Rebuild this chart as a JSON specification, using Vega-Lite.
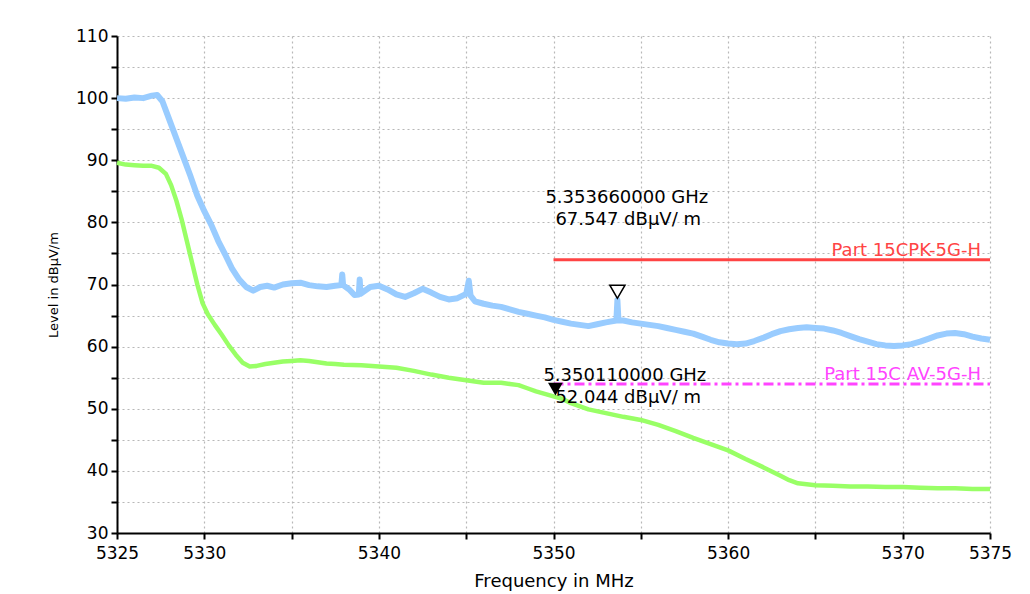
{
  "$schema": "https://vega.github.io/schema/vega-lite/v6.json",
  "width": 873,
  "height": 497,
  "autosize": {"type": "none"},
  "padding": {"left": 117, "top": 36, "right": 40, "bottom": 61},
  "background": "white",
  "config": {
    "view": {"stroke": null},
    "axis": {
      "labelFont": "DejaVu Sans",
      "titleFont": "DejaVu Sans",
      "labelColor": "black",
      "titleColor": "black",
      "titleFontWeight": "normal",
      "domainColor": "black",
      "domainWidth": 2,
      "tickColor": "black",
      "tickWidth": 2,
      "tickSize": 6,
      "grid": true,
      "gridColor": "#b8b8b8",
      "gridDash": [2, 3],
      "gridWidth": 1.2
    }
  },
  "datasets": {
    "traces": [
      {"trace": "PK", "freq": 5325.0, "level": 100.0},
      {"trace": "PK", "freq": 5325.5, "level": 99.9},
      {"trace": "PK", "freq": 5326.0, "level": 100.1},
      {"trace": "PK", "freq": 5326.5, "level": 100.0},
      {"trace": "PK", "freq": 5327.0, "level": 100.4},
      {"trace": "PK", "freq": 5327.3, "level": 100.5},
      {"trace": "PK", "freq": 5327.6, "level": 99.5},
      {"trace": "PK", "freq": 5328.0, "level": 96.5},
      {"trace": "PK", "freq": 5328.4, "level": 93.5},
      {"trace": "PK", "freq": 5328.8, "level": 90.5},
      {"trace": "PK", "freq": 5329.2, "level": 87.5},
      {"trace": "PK", "freq": 5329.6, "level": 84.3},
      {"trace": "PK", "freq": 5330.0, "level": 81.8},
      {"trace": "PK", "freq": 5330.4, "level": 79.6},
      {"trace": "PK", "freq": 5330.8, "level": 77.0},
      {"trace": "PK", "freq": 5331.2, "level": 74.8},
      {"trace": "PK", "freq": 5331.6, "level": 72.5},
      {"trace": "PK", "freq": 5332.0, "level": 70.8},
      {"trace": "PK", "freq": 5332.4, "level": 69.6},
      {"trace": "PK", "freq": 5332.8, "level": 69.0},
      {"trace": "PK", "freq": 5333.2, "level": 69.6},
      {"trace": "PK", "freq": 5333.6, "level": 69.8},
      {"trace": "PK", "freq": 5334.0, "level": 69.5},
      {"trace": "PK", "freq": 5334.5, "level": 70.0},
      {"trace": "PK", "freq": 5335.0, "level": 70.2},
      {"trace": "PK", "freq": 5335.5, "level": 70.3},
      {"trace": "PK", "freq": 5336.0, "level": 69.9},
      {"trace": "PK", "freq": 5336.5, "level": 69.7},
      {"trace": "PK", "freq": 5337.0, "level": 69.6},
      {"trace": "PK", "freq": 5337.5, "level": 69.8},
      {"trace": "PK", "freq": 5337.85, "level": 69.9},
      {"trace": "PK", "freq": 5337.9, "level": 71.6},
      {"trace": "PK", "freq": 5337.95, "level": 69.9},
      {"trace": "PK", "freq": 5338.3, "level": 69.2},
      {"trace": "PK", "freq": 5338.6, "level": 68.3},
      {"trace": "PK", "freq": 5338.85, "level": 68.4},
      {"trace": "PK", "freq": 5338.9, "level": 70.8},
      {"trace": "PK", "freq": 5338.95, "level": 68.5},
      {"trace": "PK", "freq": 5339.5, "level": 69.6},
      {"trace": "PK", "freq": 5340.0, "level": 69.8},
      {"trace": "PK", "freq": 5340.5, "level": 69.2},
      {"trace": "PK", "freq": 5341.0, "level": 68.4},
      {"trace": "PK", "freq": 5341.5, "level": 68.0},
      {"trace": "PK", "freq": 5342.0, "level": 68.6},
      {"trace": "PK", "freq": 5342.5, "level": 69.3},
      {"trace": "PK", "freq": 5343.0, "level": 68.7},
      {"trace": "PK", "freq": 5343.5, "level": 68.0},
      {"trace": "PK", "freq": 5344.0, "level": 67.6},
      {"trace": "PK", "freq": 5344.5, "level": 67.8},
      {"trace": "PK", "freq": 5345.0, "level": 68.5},
      {"trace": "PK", "freq": 5345.15, "level": 70.6},
      {"trace": "PK", "freq": 5345.25, "level": 68.2},
      {"trace": "PK", "freq": 5345.5, "level": 67.3},
      {"trace": "PK", "freq": 5346.0, "level": 66.9},
      {"trace": "PK", "freq": 5346.5, "level": 66.6},
      {"trace": "PK", "freq": 5347.0, "level": 66.4},
      {"trace": "PK", "freq": 5347.5, "level": 66.0},
      {"trace": "PK", "freq": 5348.0, "level": 65.6},
      {"trace": "PK", "freq": 5348.5, "level": 65.3},
      {"trace": "PK", "freq": 5349.0, "level": 65.0},
      {"trace": "PK", "freq": 5349.5, "level": 64.7},
      {"trace": "PK", "freq": 5350.0, "level": 64.3},
      {"trace": "PK", "freq": 5350.5, "level": 64.0},
      {"trace": "PK", "freq": 5351.0, "level": 63.7},
      {"trace": "PK", "freq": 5351.5, "level": 63.5},
      {"trace": "PK", "freq": 5352.0, "level": 63.3},
      {"trace": "PK", "freq": 5352.5, "level": 63.6},
      {"trace": "PK", "freq": 5353.0, "level": 63.9},
      {"trace": "PK", "freq": 5353.6, "level": 64.2},
      {"trace": "PK", "freq": 5353.66, "level": 67.5},
      {"trace": "PK", "freq": 5353.72, "level": 64.2},
      {"trace": "PK", "freq": 5354.0, "level": 64.2},
      {"trace": "PK", "freq": 5354.5, "level": 63.9},
      {"trace": "PK", "freq": 5355.0, "level": 63.7},
      {"trace": "PK", "freq": 5355.5, "level": 63.5},
      {"trace": "PK", "freq": 5356.0, "level": 63.3},
      {"trace": "PK", "freq": 5356.5, "level": 63.0},
      {"trace": "PK", "freq": 5357.0, "level": 62.7},
      {"trace": "PK", "freq": 5357.5, "level": 62.4},
      {"trace": "PK", "freq": 5358.0, "level": 62.1},
      {"trace": "PK", "freq": 5358.5, "level": 61.6},
      {"trace": "PK", "freq": 5359.0, "level": 61.1},
      {"trace": "PK", "freq": 5359.5, "level": 60.7},
      {"trace": "PK", "freq": 5360.0, "level": 60.5},
      {"trace": "PK", "freq": 5360.5, "level": 60.4},
      {"trace": "PK", "freq": 5361.0, "level": 60.5},
      {"trace": "PK", "freq": 5361.5, "level": 60.9},
      {"trace": "PK", "freq": 5362.0, "level": 61.4},
      {"trace": "PK", "freq": 5362.5, "level": 62.0},
      {"trace": "PK", "freq": 5363.0, "level": 62.5},
      {"trace": "PK", "freq": 5363.5, "level": 62.8},
      {"trace": "PK", "freq": 5364.0, "level": 63.0},
      {"trace": "PK", "freq": 5364.5, "level": 63.1},
      {"trace": "PK", "freq": 5365.0, "level": 63.0},
      {"trace": "PK", "freq": 5365.5, "level": 62.9},
      {"trace": "PK", "freq": 5366.0, "level": 62.6},
      {"trace": "PK", "freq": 5366.5, "level": 62.2},
      {"trace": "PK", "freq": 5367.0, "level": 61.7},
      {"trace": "PK", "freq": 5367.5, "level": 61.2},
      {"trace": "PK", "freq": 5368.0, "level": 60.8},
      {"trace": "PK", "freq": 5368.5, "level": 60.4},
      {"trace": "PK", "freq": 5369.0, "level": 60.2},
      {"trace": "PK", "freq": 5369.5, "level": 60.1},
      {"trace": "PK", "freq": 5370.0, "level": 60.2},
      {"trace": "PK", "freq": 5370.5, "level": 60.4},
      {"trace": "PK", "freq": 5371.0, "level": 60.8},
      {"trace": "PK", "freq": 5371.5, "level": 61.3},
      {"trace": "PK", "freq": 5372.0, "level": 61.8},
      {"trace": "PK", "freq": 5372.5, "level": 62.1},
      {"trace": "PK", "freq": 5373.0, "level": 62.2},
      {"trace": "PK", "freq": 5373.5, "level": 62.0},
      {"trace": "PK", "freq": 5374.0, "level": 61.6},
      {"trace": "PK", "freq": 5374.5, "level": 61.3},
      {"trace": "PK", "freq": 5375.0, "level": 61.1},
      {"trace": "AV", "freq": 5325.0, "level": 89.6},
      {"trace": "AV", "freq": 5325.5, "level": 89.3},
      {"trace": "AV", "freq": 5326.0, "level": 89.2},
      {"trace": "AV", "freq": 5326.5, "level": 89.1},
      {"trace": "AV", "freq": 5327.0, "level": 89.1},
      {"trace": "AV", "freq": 5327.4, "level": 88.8},
      {"trace": "AV", "freq": 5327.8, "level": 87.8},
      {"trace": "AV", "freq": 5328.1, "level": 86.0},
      {"trace": "AV", "freq": 5328.4, "level": 83.5},
      {"trace": "AV", "freq": 5328.7, "level": 80.5},
      {"trace": "AV", "freq": 5329.0, "level": 77.0},
      {"trace": "AV", "freq": 5329.3, "level": 73.5},
      {"trace": "AV", "freq": 5329.6, "level": 70.0},
      {"trace": "AV", "freq": 5329.9, "level": 67.0},
      {"trace": "AV", "freq": 5330.2, "level": 65.2},
      {"trace": "AV", "freq": 5330.6, "level": 63.5},
      {"trace": "AV", "freq": 5331.0, "level": 61.9},
      {"trace": "AV", "freq": 5331.4, "level": 60.2},
      {"trace": "AV", "freq": 5331.8, "level": 58.7},
      {"trace": "AV", "freq": 5332.2, "level": 57.4},
      {"trace": "AV", "freq": 5332.6, "level": 56.8},
      {"trace": "AV", "freq": 5333.0, "level": 56.9},
      {"trace": "AV", "freq": 5333.5, "level": 57.2},
      {"trace": "AV", "freq": 5334.0, "level": 57.4},
      {"trace": "AV", "freq": 5334.5, "level": 57.6},
      {"trace": "AV", "freq": 5335.0, "level": 57.7},
      {"trace": "AV", "freq": 5335.5, "level": 57.8},
      {"trace": "AV", "freq": 5336.0, "level": 57.7},
      {"trace": "AV", "freq": 5336.5, "level": 57.5},
      {"trace": "AV", "freq": 5337.0, "level": 57.3},
      {"trace": "AV", "freq": 5337.5, "level": 57.2},
      {"trace": "AV", "freq": 5338.0, "level": 57.1},
      {"trace": "AV", "freq": 5339.0, "level": 57.0},
      {"trace": "AV", "freq": 5340.0, "level": 56.8},
      {"trace": "AV", "freq": 5341.0, "level": 56.6},
      {"trace": "AV", "freq": 5342.0, "level": 56.1},
      {"trace": "AV", "freq": 5343.0, "level": 55.5},
      {"trace": "AV", "freq": 5344.0, "level": 55.0},
      {"trace": "AV", "freq": 5345.0, "level": 54.6},
      {"trace": "AV", "freq": 5346.0, "level": 54.2},
      {"trace": "AV", "freq": 5347.0, "level": 54.2},
      {"trace": "AV", "freq": 5347.5, "level": 54.0},
      {"trace": "AV", "freq": 5348.0, "level": 53.8},
      {"trace": "AV", "freq": 5348.5, "level": 53.3},
      {"trace": "AV", "freq": 5349.0, "level": 52.8},
      {"trace": "AV", "freq": 5349.5, "level": 52.4},
      {"trace": "AV", "freq": 5350.0, "level": 52.0},
      {"trace": "AV", "freq": 5350.5, "level": 51.6},
      {"trace": "AV", "freq": 5351.0, "level": 50.9},
      {"trace": "AV", "freq": 5352.0, "level": 49.9},
      {"trace": "AV", "freq": 5353.0, "level": 49.3},
      {"trace": "AV", "freq": 5354.0, "level": 48.7},
      {"trace": "AV", "freq": 5355.0, "level": 48.2},
      {"trace": "AV", "freq": 5356.0, "level": 47.4},
      {"trace": "AV", "freq": 5357.0, "level": 46.4},
      {"trace": "AV", "freq": 5358.0, "level": 45.3},
      {"trace": "AV", "freq": 5359.0, "level": 44.3},
      {"trace": "AV", "freq": 5360.0, "level": 43.3},
      {"trace": "AV", "freq": 5361.0, "level": 41.9},
      {"trace": "AV", "freq": 5362.0, "level": 40.6},
      {"trace": "AV", "freq": 5363.0, "level": 39.2},
      {"trace": "AV", "freq": 5363.5, "level": 38.5},
      {"trace": "AV", "freq": 5364.0, "level": 38.0},
      {"trace": "AV", "freq": 5365.0, "level": 37.7},
      {"trace": "AV", "freq": 5366.0, "level": 37.6},
      {"trace": "AV", "freq": 5367.0, "level": 37.5},
      {"trace": "AV", "freq": 5368.0, "level": 37.5},
      {"trace": "AV", "freq": 5369.0, "level": 37.4},
      {"trace": "AV", "freq": 5370.0, "level": 37.4},
      {"trace": "AV", "freq": 5371.0, "level": 37.3},
      {"trace": "AV", "freq": 5372.0, "level": 37.2},
      {"trace": "AV", "freq": 5373.0, "level": 37.2},
      {"trace": "AV", "freq": 5374.0, "level": 37.1},
      {"trace": "AV", "freq": 5375.0, "level": 37.1}
    ],
    "limits": [
      {"limit": "PK", "label": "Part 15CPK-5G-H", "freq": 5350, "level": 74},
      {"limit": "PK", "label": "Part 15CPK-5G-H", "freq": 5375, "level": 74},
      {"limit": "AV", "label": "Part 15C AV-5G-H", "freq": 5350, "level": 54},
      {"limit": "AV", "label": "Part 15C AV-5G-H", "freq": 5375, "level": 54}
    ],
    "markers": [
      {"marker": "M1", "freq": 5353.66, "level": 67.547, "freqText": "5.353660000 GHz", "levelText": "67.547 dBµV/ m"},
      {"marker": "M2", "freq": 5350.11, "level": 52.044, "freqText": "5.350110000 GHz", "levelText": "52.044 dBµV/ m"}
    ]
  },
  "encoding": {
    "x": {
      "field": "freq",
      "type": "quantitative",
      "scale": {"domain": [5325, 5375], "nice": false, "zero": false},
      "axis": {
        "title": "Frequency in MHz",
        "titleFontSize": 18,
        "titlePadding": 11,
        "labelFontSize": 17,
        "labelPadding": 6,
        "values": [5325, 5330, 5335, 5340, 5345, 5350, 5355, 5360, 5365, 5370, 5375],
        "labelExpr": "indexof([5335, 5345, 5355, 5365], datum.value) >= 0 ? '' : datum.label",
        "format": "d",
        "labelFlush": false,
        "labelOverlap": false
      }
    },
    "y": {
      "field": "level",
      "type": "quantitative",
      "scale": {"domain": [30, 110], "nice": false, "zero": false},
      "axis": {
        "title": "Level in dBµV/m",
        "titleFontSize": 13,
        "titlePadding": 15,
        "labelFontSize": 17,
        "labelPadding": 3,
        "values": [30, 35, 40, 45, 50, 55, 60, 65, 70, 75, 80, 85, 90, 95, 100, 105, 110],
        "labelExpr": "datum.value % 10 == 0 ? datum.label : ''",
        "labelFlush": false,
        "labelOverlap": false
      }
    }
  },
  "layer": [
    {
      "data": {"name": "traces"},
      "transform": [{"filter": "datum.trace == 'PK'"}],
      "mark": {"type": "line", "color": "#99ccff", "strokeWidth": 6, "strokeJoin": "round"}
    },
    {
      "data": {"name": "traces"},
      "transform": [{"filter": "datum.trace == 'AV'"}],
      "mark": {"type": "line", "color": "#99ff66", "strokeWidth": 4.5, "strokeJoin": "round"}
    },
    {
      "data": {"name": "limits"},
      "transform": [{"filter": "datum.limit == 'PK'"}],
      "mark": {"type": "line", "color": "#ff4444", "strokeWidth": 3}
    },
    {
      "data": {"name": "limits"},
      "transform": [{"filter": "datum.limit == 'AV'"}],
      "mark": {"type": "line", "color": "#ff44ff", "strokeWidth": 3, "strokeDash": [10, 4, 3, 4]}
    },
    {
      "data": {"name": "limits"},
      "transform": [{"filter": "datum.freq == 5375"}],
      "mark": {"type": "text", "align": "right", "baseline": "alphabetic", "dx": -9, "dy": -4, "font": "DejaVu Sans", "fontSize": 18},
      "encoding": {
        "text": {"field": "label"},
        "color": {"field": "limit", "type": "nominal", "scale": {"domain": ["PK", "AV"], "range": ["#ff4444", "#ff44ff"]}, "legend": null}
      }
    },
    {
      "data": {"name": "markers"},
      "transform": [{"filter": "datum.marker == 'M1'"}],
      "mark": {"type": "point", "shape": "triangle-down", "filled": false, "color": "black", "strokeWidth": 1.5, "size": 230, "yOffset": -8, "opacity": 1}
    },
    {
      "data": {"name": "markers"},
      "transform": [{"filter": "datum.marker == 'M2'"}],
      "mark": {"type": "point", "shape": "triangle-down", "filled": true, "color": "black", "size": 220, "yOffset": -7, "opacity": 1}
    },
    {
      "data": {"name": "markers"},
      "transform": [{"filter": "datum.marker == 'M1'"}],
      "mark": {"type": "text", "align": "left", "baseline": "alphabetic", "dx": -72, "dy": -97, "font": "DejaVu Sans", "fontSize": 18, "color": "black"},
      "encoding": {"text": {"field": "freqText"}}
    },
    {
      "data": {"name": "markers"},
      "transform": [{"filter": "datum.marker == 'M1'"}],
      "mark": {"type": "text", "align": "left", "baseline": "alphabetic", "dx": -62, "dy": -75, "font": "DejaVu Sans", "fontSize": 18, "color": "black"},
      "encoding": {"text": {"field": "levelText"}}
    },
    {
      "data": {"name": "markers"},
      "transform": [{"filter": "datum.marker == 'M2'"}],
      "mark": {"type": "text", "align": "left", "baseline": "alphabetic", "dx": -12, "dy": -15, "font": "DejaVu Sans", "fontSize": 18, "color": "black"},
      "encoding": {"text": {"field": "freqText"}}
    },
    {
      "data": {"name": "markers"},
      "transform": [{"filter": "datum.marker == 'M2'"}],
      "mark": {"type": "text", "align": "left", "baseline": "alphabetic", "dx": 0, "dy": 7, "font": "DejaVu Sans", "fontSize": 18, "color": "black"},
      "encoding": {"text": {"field": "levelText"}}
    }
  ]
}
